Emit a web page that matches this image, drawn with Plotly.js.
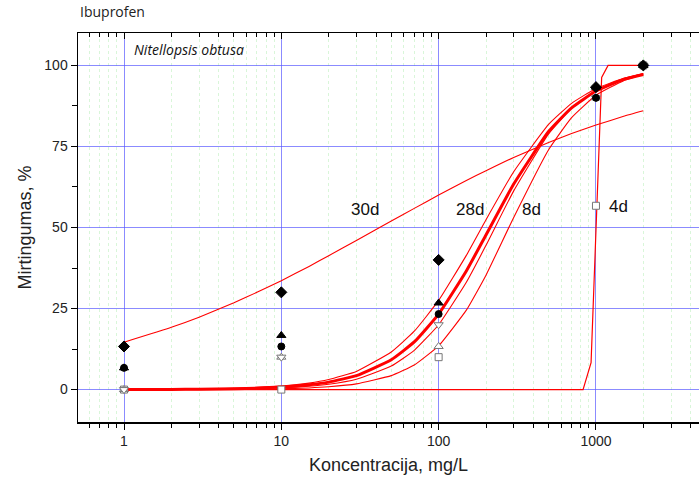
<!DOCTYPE html>
<html>
<head>
<meta charset="utf-8">
<script src="https://cdn.plot.ly/plotly-3.0.1.min.js"></script>
<style>html,body{margin:0;padding:0;background:#fff;}#chart{width:699px;height:482px;}</style>
</head>
<body>
<div id="chart"></div>
<script>
// Measured concentrations (mg/L)
const conc = [1, 10, 100, 1000, 2000];
// Observed mortality (%) per exposure series
const obs4d      = [0, 0, 10, 56.7, 100];      // open square
const obsUpOpen  = [0, 10, 13.3, 90, 100];     // open triangle up
const obsDnOpen  = [0, 10, 20, 90, 100];       // open triangle down
const obsCircle  = [6.7, 13.3, 23.3, 90, 100]; // filled circle
const obsTri28d  = [6.7, 16.7, 26.7, 93.3, 100]; // filled triangle
const obsDia30d  = [13.3, 30, 40, 93.3, 100];  // filled diamond

// Fitted curves
const curveX = [1, 2, 3, 5, 7, 10, 15, 20, 30, 50, 70, 100, 150, 200, 300, 500, 700, 1000, 1500, 2000];
const fit30d = [14.6, 19.2, 22.3, 26.8, 30.0, 33.6, 38.0, 41.3, 46.0, 52.0, 55.9, 60.0, 64.5, 67.5, 71.6, 76.2, 79.0, 81.6, 84.3, 86.0];
const fit28d = [0.03, 0.09, 0.17, 0.38, 0.64, 1.09, 2.0, 3.1, 5.6, 11.6, 18.0, 27.5, 41.4, 52.4, 67.2, 81.8, 88.3, 92.9, 96.0, 97.4];
const fitMid = [0.02, 0.06, 0.12, 0.26, 0.45, 0.78, 1.48, 2.3, 4.3, 9.2, 14.7, 23.3, 36.6, 47.7, 63.4, 79.6, 86.9, 92.1, 95.7, 97.2];
const fitC   = [0.01, 0.04, 0.07, 0.16, 0.29, 0.52, 1.02, 1.65, 3.2, 7.25, 12.1, 20.0, 33.1, 44.5, 61.3, 78.9, 86.8, 92.3, 95.9, 97.5];
const fit8d  = [0.0, 0.01, 0.03, 0.07, 0.13, 0.25, 0.51, 0.86, 1.76, 4.3, 7.6, 13.5, 24.5, 35.3, 53.1, 74.0, 83.9, 90.8, 95.3, 97.2];
const fit4dX = [1, 828, 931, 1026, 1087, 1194, 2000];
const fit4dY = [0, 0, 8.3, 64.6, 96.3, 100, 100];

// Axis tick labels
const xTickVals = [1, 10, 100, 1000];
const xTickText = ['1', '10', '100', '1000'];
const yTickVals = [0, 25, 50, 75, 100];

// Curve labels
const labelText = ['30d', '28d', '8d', '4d'];
const labelX = [34, 158, 392, 1400];
const labelY = [55.4, 55.4, 55.4, 56.6];

const minorVals = [];
[0.1, 1, 10, 100, 1000].forEach(d => { for (let k = 2; k <= 9; k++) { const v = k * d; if (v > 0.5 && v < 4600) minorVals.push(v); } });

const red = 'rgb(255,0,0)';
const traces = [];
function curve(x, y, w, shape) {
  traces.push({x: x, y: y, mode: 'lines', line: {color: red, width: w, shape: shape || 'spline', smoothing: 0.4}, hoverinfo: 'skip', showlegend: false});
}
curve(curveX, fit30d, 1.1);
curve(curveX, fit28d, 1.1);
curve(curveX, fitC, 1.1);
curve(curveX, fit8d, 1.1);
curve(curveX, fitMid, 3);
curve(fit4dX, fit4dY, 1.2, 'linear');

function pts(y, sym, size, fill, lineCol) {
  traces.push({x: conc, y: y, mode: 'markers', marker: {symbol: sym, size: size, color: fill, line: {color: lineCol, width: 1}}, showlegend: false});
}
pts(obs4d, 'square', 7, '#fff', '#777');
pts(obsUpOpen, 'triangle-up', 8, '#fff', '#777');
pts(obsDnOpen, 'triangle-down', 8, '#fff', '#777');
pts(obsCircle, 'circle', 7, '#000', '#000');
pts(obsTri28d, 'triangle-up', 8, '#000', '#000');
pts(obsDia30d, 'diamond', 8.5, '#000', '#000');
// invisible trace to anchor top mirror axis
traces.push({x: conc, y: obs4d, xaxis: 'x2', mode: 'markers', marker: {opacity: 0}, hoverinfo: 'skip', showlegend: false});

const xr = [Math.log10(0.51), 3.655];
const font = {family: 'Liberation Sans, Arial, sans-serif', size: 14, color: '#222'};

const annotations = labelText.map((t, i) => ({
  x: Math.log10(labelX[i]), y: labelY[i], xref: 'x', yref: 'y', text: t, showarrow: false,
  font: {family: 'Liberation Sans, Arial, sans-serif', size: 17, color: '#111'}
}));
annotations.push({x: Math.log10(2.59), y: 104.8, xref: 'x', yref: 'y', text: '<i>Nitellopsis obtusa</i>', showarrow: false,
  font: {family: 'Open Sans, sans-serif', size: 14, color: '#111'}});
annotations.push({x: 0, y: 1, xref: 'paper', yref: 'paper', xanchor: 'left', yanchor: 'bottom', yshift: 10, xshift: 0,
  text: 'Ibuprofen', showarrow: false, font: {family: 'Open Sans, sans-serif', size: 14, color: '#222'}});

const layout = {
  width: 699, height: 482,
  margin: {l: 78, r: 0, t: 33, b: 60},
  paper_bgcolor: '#fff', plot_bgcolor: '#fff',
  showlegend: false,
  font: font,
  xaxis: {
    type: 'log', range: xr, tickmode: 'array', tickvals: xTickVals, ticktext: xTickText,
    ticks: 'outside', ticklen: 6, tickcolor: '#000', tickwidth: 1,
    showline: true, linecolor: '#000', linewidth: 1.5,
    showgrid: true, gridcolor: 'rgba(90,90,255,0.7)', gridwidth: 1, zeroline: false,
    minor: {tickmode: 'array', tickvals: minorVals, ticks: 'outside', ticklen: 4, tickcolor: '#000',
            showgrid: true, gridcolor: 'rgba(170,235,170,0.45)', griddash: 'dot', gridwidth: 1},
    title: {text: 'Koncentracija, mg/L', font: {family: 'Liberation Sans, Arial, sans-serif', size: 18, color: '#222'}, standoff: 10},
    tickfont: font
  },
  xaxis2: {
    type: 'log', range: xr, overlaying: 'x', side: 'top', anchor: 'y',
    tickmode: 'array', tickvals: xTickVals, showticklabels: false,
    ticks: 'inside', ticklen: 6, tickcolor: '#000',
    showline: true, linecolor: '#000', linewidth: 1.5, showgrid: false, zeroline: false,
    minor: {tickmode: 'array', tickvals: minorVals, ticks: 'inside', ticklen: 4, tickcolor: '#000', showgrid: false}
  },
  yaxis: {
    range: [-10, 110], tickmode: 'array', tickvals: yTickVals,
    ticks: 'outside', ticklen: 6, tickcolor: '#000',
    showline: true, linecolor: '#000', linewidth: 1.5,
    showgrid: true, gridcolor: 'rgba(90,90,255,0.7)', gridwidth: 1, zeroline: false,
    minor: {dtick: 12.5, tick0: 12.5, ticks: 'outside', ticklen: 5, tickcolor: '#000', showgrid: false},
    title: {text: 'Mirtingumas, %', font: {family: 'Liberation Sans, Arial, sans-serif', size: 18, color: '#222'}, standoff: 8},
    tickfont: font
  },
  annotations: annotations
};

Plotly.newPlot('chart', traces, layout, {displayModeBar: false, staticPlot: true});
</script>
</body>
</html>
